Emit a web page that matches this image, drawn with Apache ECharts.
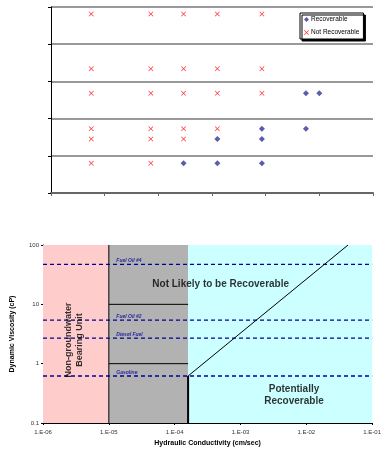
<!DOCTYPE html>
<html>
<head>
<meta charset="utf-8">
<script src="https://cdn.jsdelivr.net/npm/echarts@6/dist/echarts.min.js"></script>
<style>
  html, body { margin: 0; padding: 0; background: #fff; }
  #main { width: 384px; height: 453px; }
</style>
</head>
<body>
<div id="main"></div>
<script>
// top panel: scatter of recoverable / not recoverable cases
const recoverable = [
    [4.75, 2.68], [5.0, 2.68],
    [3.93, 1.73], [4.75, 1.73],
    [3.1, 1.45], [3.93, 1.45],
    [2.47, 0.8], [3.1, 0.8], [3.93, 0.8]
];
const notRecoverable = [
    [0.75, 4.81], [1.86, 4.81], [2.47, 4.81], [3.1, 4.81], [3.93, 4.81],
    [0.75, 3.34], [1.86, 3.34], [2.47, 3.34], [3.1, 3.34], [3.93, 3.34],
    [0.75, 2.68], [1.86, 2.68], [2.47, 2.68], [3.1, 2.68], [3.93, 2.68],
    [0.75, 1.73], [1.86, 1.73], [2.47, 1.73], [3.1, 1.73],
    [0.75, 1.45], [1.86, 1.45], [2.47, 1.45],
    [0.75, 0.8], [1.86, 0.8]
];

// bottom panel: conductivity (cm/sec) vs viscosity (cP)
const zoneBounds = [1e-6, 1e-5, 1.6e-4, 1e-1];
const grayLines = [10, 1];
const fuelNames = ['Fuel Oil #4', 'Fuel Oil #2', 'Diesel Fuel', 'Gasoline'];
const fuelViscosity = [47, 5.4, 2.7, 0.62];
const boundaryLine = [[1.6e-4, 0.62], [0.043, 100]];
const cutoffLine = [[1.6e-4, 0.1], [1.6e-4, 0.62]];
const zoneLabels = [
    { name: 'Not Likely to be Recoverable', value: [5e-4, 22] },
    { name: 'Potentially\nRecoverable', value: [6.5e-3, 0.29] }
];
const unitLabel = [{ name: 'Non-groundwater\nBearing Unit', value: [3e-6, 2.5] }];

const FONT = 'Liberation Sans, Arial, sans-serif';
const X_PATH = 'path://M0,1L1,0L5,4L9,0L10,1L6,5L10,9L9,10L5,6L1,10L0,9L4,5Z';

const chart = echarts.init(document.getElementById('main'));

const fuelSeries = fuelNames.map((name, i) => ({
    type: 'line',
    xAxisIndex: 1,
    yAxisIndex: 1,
    z: 4,
    symbol: 'none',
    silent: true,
    data: [[zoneBounds[0], fuelViscosity[i]], [zoneBounds[3], fuelViscosity[i]]],
    lineStyle: { color: '#000099', width: 1.3, type: [4, 3] }
}));

const option = {
    animation: false,
    textStyle: { fontFamily: FONT },
    grid: [
        { left: 51, right: 11, top: 7, bottom: 260 },
        { left: 43, right: 8, top: 245, bottom: 30 }
    ],
    legend: {
        data: [
            { name: 'Recoverable', icon: 'diamond' },
            { name: 'Not Recoverable', icon: X_PATH }
        ],
        orient: 'vertical',
        left: 300,
        top: 13,
        itemWidth: 5,
        itemHeight: 5,
        itemGap: 6,
        padding: [3, 4, 3, 4],
        backgroundColor: '#fff',
        borderColor: '#000',
        borderWidth: 1,
        borderRadius: 0,
        shadowColor: '#000',
        shadowOffsetX: 2,
        shadowOffsetY: 2,
        shadowBlur: 0,
        textStyle: { fontSize: 6.5, color: '#000', padding: [0, 0, 0, -3] }
    },
    xAxis: [
        {
            gridIndex: 0, type: 'value', min: 0, max: 6, interval: 1,
            axisLine: { lineStyle: { color: '#666', width: 2 } },
            axisTick: { length: 3, lineStyle: { color: '#666' } },
            axisLabel: { show: false },
            splitLine: { show: false }
        },
        {
            gridIndex: 1, type: 'log', logBase: 10,
            min: zoneBounds[0], max: zoneBounds[3], interval: 1,
            name: 'Hydraulic Conductivity (cm/sec)',
            nameLocation: 'middle', nameGap: 17,
            nameTextStyle: { fontSize: 7, fontWeight: 'bold', color: '#000' },
            axisLine: { onZero: false, lineStyle: { color: '#000', width: 1 } },
            axisTick: { length: 2, lineStyle: { color: '#000' } },
            axisLabel: {
                fontSize: 6, color: '#333', margin: 6,
                formatter: v => '1.E-' + String(Math.round(-Math.log10(v))).padStart(2, '0')
            },
            splitLine: { show: false },
            minorTick: { show: false }
        }
    ],
    yAxis: [
        {
            gridIndex: 0, type: 'value', min: 0, max: 5, interval: 1,
            axisLine: { show: true, lineStyle: { color: '#000', width: 1 } },
            axisTick: { show: true, length: 3, lineStyle: { color: '#000' } },
            axisLabel: { show: false },
            splitLine: { lineStyle: { color: '#777', width: 1.5 } }
        },
        {
            gridIndex: 1, type: 'log', logBase: 10, min: 0.1, max: 100, interval: 1,
            name: 'Dynamic Viscosity (cP)',
            nameLocation: 'middle', nameGap: 27, nameRotate: 90,
            nameTextStyle: { fontSize: 7, fontWeight: 'bold', color: '#000' },
            axisLine: { show: true, onZero: false, lineStyle: { color: '#000', width: 1 } },
            axisTick: { show: true, length: 2, lineStyle: { color: '#000' } },
            axisLabel: { fontSize: 6, color: '#333', margin: 4 },
            splitLine: { show: false }
        }
    ],
    series: [
        {
            name: 'Recoverable',
            type: 'scatter',
            xAxisIndex: 0, yAxisIndex: 0,
            symbol: 'diamond',
            symbolSize: 6,
            itemStyle: { color: '#333399' },
            data: recoverable
        },
        {
            name: 'Not Recoverable',
            type: 'scatter',
            xAxisIndex: 0, yAxisIndex: 0,
            symbol: X_PATH,
            symbolSize: 5,
            itemStyle: { color: '#ff0000' },
            data: notRecoverable
        },
        // coloured zones + the line at 1.E-05
        {
            type: 'line',
            xAxisIndex: 1, yAxisIndex: 1,
            z: 2,
            symbol: 'none',
            silent: true,
            data: [[zoneBounds[1], 0.1], [zoneBounds[1], 100]],
            lineStyle: { color: '#000', width: 1 },
            markArea: {
                silent: true,
                itemStyle: { opacity: 1 },
                data: [
                    [{ coord: [zoneBounds[0], 0.1], itemStyle: { color: '#ffcccc' } }, { coord: [zoneBounds[1], 100] }],
                    [{ coord: [zoneBounds[1], 0.1], itemStyle: { color: '#b2b2b2' } }, { coord: [zoneBounds[2], 100] }],
                    [{ coord: [zoneBounds[2], 0.1], itemStyle: { color: '#ccffff' } }, { coord: [zoneBounds[3], 100] }]
                ]
            }
        },
        ...grayLines.map(v => ({
            type: 'line',
            xAxisIndex: 1, yAxisIndex: 1,
            z: 3,
            symbol: 'none',
            silent: true,
            data: [[zoneBounds[1], v], [zoneBounds[2], v]],
            lineStyle: { color: '#000', width: 1 }
        })),
        ...fuelSeries,
        {
            type: 'line',
            xAxisIndex: 1, yAxisIndex: 1,
            z: 5,
            symbol: 'none',
            silent: true,
            data: cutoffLine,
            lineStyle: { color: '#000', width: 2 }
        },
        {
            type: 'line',
            xAxisIndex: 1, yAxisIndex: 1,
            z: 5,
            symbol: 'none',
            silent: true,
            data: boundaryLine,
            lineStyle: { color: '#000', width: 1 }
        },
        {
            type: 'scatter',
            xAxisIndex: 1, yAxisIndex: 1,
            z: 6,
            symbolSize: 0,
            silent: true,
            data: fuelNames.map((n, i) => ({ name: n, value: [1.3e-5, fuelViscosity[i]] })),
            label: {
                show: true, position: 'insideBottomLeft', distance: 0, offset: [0, -1],
                formatter: '{b}',
                fontSize: 5, fontStyle: 'italic', fontWeight: 'bold', color: '#000099'
            }
        },
        {
            type: 'scatter',
            xAxisIndex: 1, yAxisIndex: 1,
            z: 6,
            symbolSize: 0,
            silent: true,
            data: zoneLabels,
            label: {
                show: true, position: 'inside', formatter: '{b}',
                fontSize: 10, fontWeight: 'bold', color: '#000', lineHeight: 12
            }
        },
        {
            type: 'scatter',
            xAxisIndex: 1, yAxisIndex: 1,
            z: 6,
            symbolSize: 0,
            silent: true,
            data: unitLabel,
            label: {
                show: true, position: 'inside', formatter: '{b}', rotate: 90,
                fontSize: 9, fontWeight: 'bold', color: '#000', lineHeight: 11
            }
        }
    ]
};

chart.setOption(option);
</script>
</body>
</html>
